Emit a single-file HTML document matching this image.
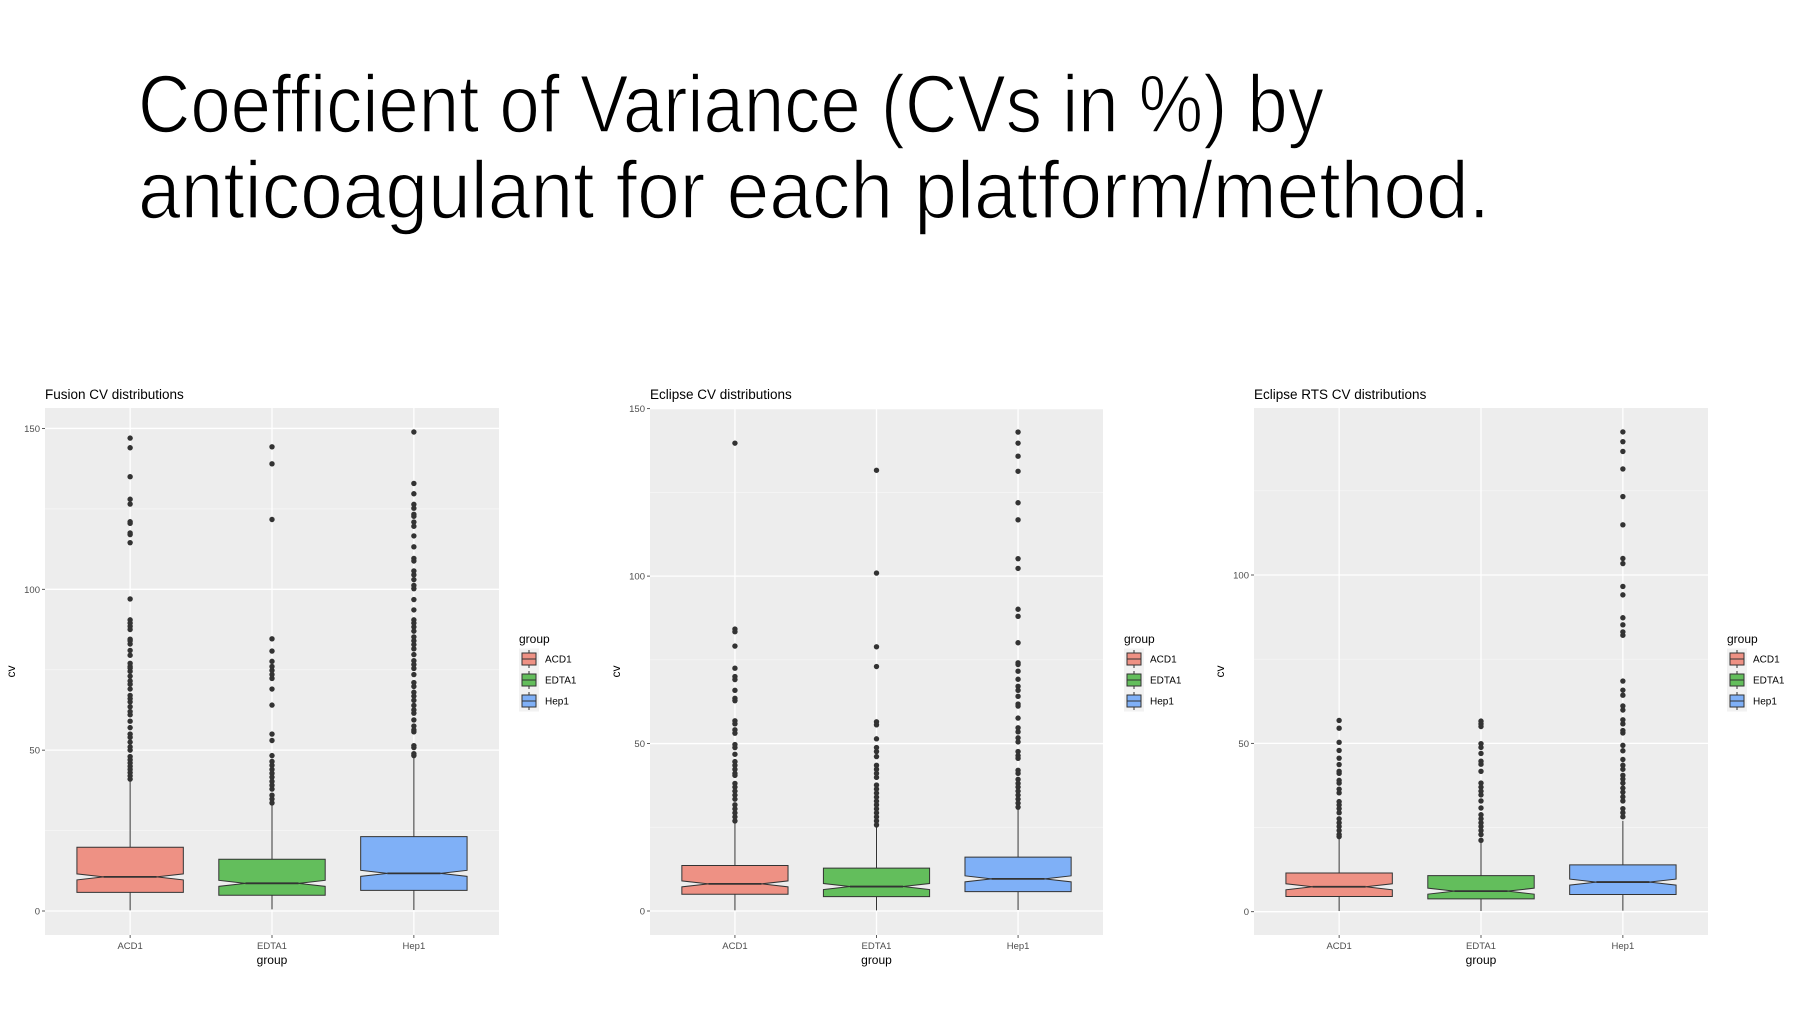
<!DOCTYPE html>
<html><head><meta charset="utf-8"><style>
html,body{margin:0;padding:0;background:#fff;}
svg{display:block;}
text{font-family:"Liberation Sans",sans-serif;}
</style></head><body>
<svg id="root" width="1800" height="1013" viewBox="0 0 1800 1013" xmlns="http://www.w3.org/2000/svg">
<rect width="1800" height="1013" fill="#fff"/>
<text x="138" y="132" font-size="82" fill="#000" stroke="#fff" stroke-width="1.6" textLength="1186" lengthAdjust="spacingAndGlyphs">Coefficient of Variance (CVs in %) by</text>
<text x="138" y="218" font-size="82" fill="#000" stroke="#fff" stroke-width="1.6" textLength="1352" lengthAdjust="spacingAndGlyphs">anticoagulant for each platform/method.</text>
</svg>
<script>
const categories = ["ACD1","EDTA1","Hep1"];
const fillColors = ["#EE9184","#63BE5C","#7FB0F7"];

// Fusion
const fusionQ1 = [5.8, 4.9, 6.4];
const fusionMedian = [10.6, 8.6, 11.7];
const fusionQ3 = [19.8, 16.1, 23.1];
const fusionWhiskerHigh = [40.3, 33.3, 47.7];
const fusionWhiskerLow = [0.2, 0.5, 0.3];
const fusionOutACD1 = [147,144,135,128,126.5,121,120.5,117.5,117,114.5,97,90.5,89.5,88.5,87.5,84.5,84,83,81,79.5,77,76,75.5,74.5,73,71.5,70.5,69,67,66,65,63.5,62,61,59,57,55,54,52.5,51,50,48,47,46,45,44,43,42,41];
const fusionOutEDTA1 = [144.3,139,121.7,84.6,80.8,77.6,76,74.8,73.5,72.3,69,64,55,53,48.3,46.5,45.3,44,42.8,41.6,40.3,39.1,37.9,36,34.8,33.6];
const fusionOutHep1 = [148.9,132.9,129.7,126.4,125.2,123.3,122.7,120.9,119.6,116.6,113.2,109.6,108.8,105.7,104.5,103,101.2,100.2,96.8,93.6,90.5,89.5,88.3,87,85.2,84,82.8,81.5,79.7,77.8,76.6,75.4,73.5,71,69.8,68,66.8,65.5,63.9,62.5,61.5,59.4,57.5,56.3,55.7,51.4,50.8,48.9,48.3];
const fusionTicks = [0,50,100,150];

// Eclipse
const eclipseQ1 = [5.0, 4.3, 5.8];
const eclipseMedian = [8.1, 7.3, 9.6];
const eclipseQ3 = [13.6, 12.8, 16.1];
const eclipseWhiskerHigh = [26.9, 25.7, 31.0];
const eclipseWhiskerLow = [0.2, 0.2, 0.3];
const eclipseOutACD1 = [139.7,84.2,83.4,79.1,72.5,70,69.1,65.9,63.5,62.8,56.8,55.9,54.1,53.1,49.7,48.8,46.8,44.6,43.5,42.3,41.1,40.5,38.1,37,35.8,34.6,33.4,31.7,30.5,29.3,28.1,26.9];
const eclipseOutEDTA1 = [131.6,100.9,78.9,73,56.5,55.6,51.4,48.8,47.6,46.1,43.5,42.3,41.1,39.9,37.6,36.4,35.2,34,32.8,31.7,30.5,29.3,28.1,26.9,25.7];
const eclipseOutHep1 = [143,139.7,135.8,131.3,121.9,116.8,105.2,102.3,90.1,88,80.1,74.1,73.6,71.6,69.2,67.1,65.9,64.1,61.8,61.2,57.6,54.7,53.5,51.7,50.5,47.6,46.4,45.6,42,41.1,39.3,38.1,37,35.8,34.6,33.4,32.2,31];
const eclipseTicks = [0,50,100,150];

// Eclipse RTS
const rtsQ1 = [4.5, 3.8, 5.1];
const rtsMedian = [7.4, 6.1, 8.8];
const rtsQ3 = [11.5, 10.7, 13.9];
const rtsWhiskerHigh = [22.3, 21.2, 27.0];
const rtsWhiskerLow = [0.2, 0.2, 0.3];
const rtsOutACD1 = [56.8,54.5,50.3,47.9,45.6,43.7,41.7,41.1,39,38.2,36.4,35.3,32.7,31.7,30.6,29.4,27.6,26.4,25.3,24.1,22.9,22.3];
const rtsOutEDTA1 = [56.6,55.8,55,49.9,48.8,47,44.7,43.8,41.7,38.2,37,35.8,34.7,32.9,30.8,28.8,27.6,26.4,25.3,24.1,22.9,21.2];
const rtsOutHep1 = [142.5,139.6,136.7,131.5,123.3,114.9,104.9,103.4,96.6,94.1,87.3,85.2,83.1,82.1,68.5,65.8,64.3,61.1,59.9,57,55.8,53.8,53.1,49.4,47.8,45.2,43.5,42.3,40.5,39.4,38.2,36.7,35.5,34.1,32.9,30.6,29.4,28.2];
const rtsTicks = [0,50,100];

const NS = "http://www.w3.org/2000/svg";
const root = document.getElementById('root');
function mk(tag, attrs, parent){
  const e = document.createElementNS(NS, tag);
  for (const k in attrs) e.setAttribute(k, attrs[k]);
  (parent||root).appendChild(e);
  return e;
}

function drawPanel(p){
  const g = mk('g', {});
  
  
  const step = (p.right - p.left) / 3.2;
  const yScale = v => p.y0 - v * p.ppu;
  const xScale = i => p.left + (i + 0.6) * step;
  const bg = mk('rect', {x:p.left, y:p.top, width:p.right-p.left, height:p.bottom-p.top, fill:'#EDEDED'}, g);
  
  
  for (let i = 0; i < p.ticks.length; i++) {
    const mv = p.ticks[i] + 25;
    const yy = yScale(mv);
    if (yy > p.top && yy < p.bottom) {
      const ml = mk('line', {x1:p.left, x2:p.right, y1:yy, y2:yy, stroke:'#f7f7f7', 'stroke-width':0.7}, g);
      
      
    }
  }
  p.ticks.forEach(t => {
    const yy = yScale(t);
    const gl = mk('line', {x1:p.left, x2:p.right, y1:yy, y2:yy, stroke:'#fff', 'stroke-width':1.3}, g);
    
    
    mk('line', {x1:p.left-3, x2:p.left, y1:yy, y2:yy, stroke:'#333', 'stroke-width':0.8}, g);
    const tl = mk('text', {x:p.left-5, y:yy+3.5, 'font-size':9.5, fill:'#4d4d4d', 'text-anchor':'end'}, g);
    tl.textContent = t;
    
    
  });
  categories.forEach((c, i) => {
    const xx = xScale(i);
    const vg = mk('line', {x1:xx, x2:xx, y1:p.top, y2:p.bottom, stroke:'#fff', 'stroke-width':1.3}, g);
    
    
    mk('line', {x1:xx, x2:xx, y1:p.bottom, y2:p.bottom+3, stroke:'#333', 'stroke-width':0.8}, g);
    const xl = mk('text', {x:xx, y:p.bottom+14, 'font-size':9.5, fill:'#4d4d4d', 'text-anchor':'middle'}, g);
    xl.textContent = c;
    
    
  });
  categories.forEach((c, i) => {
    const xx = xScale(i);
    const hw = step * 0.375;
    const q1 = yScale(p.q1[i]), q3 = yScale(p.q3[i]), md = yScale(p.med[i]);
    const nh = 3;
    const wl = mk('line', {x1:xx, x2:xx, y1:yScale(p.wh[i]), y2:q3, stroke:'#333', 'stroke-width':1}, g);
    
    
    const wl2 = mk('line', {x1:xx, x2:xx, y1:q1, y2:yScale(p.wl[i]), stroke:'#333', 'stroke-width':1}, g);
    
    
    const L = xx - hw, R = xx + hw, Li = xx - hw/2, Ri = xx + hw/2;
    const d = `M${L},${q3} L${R},${q3} L${R},${md-nh} L${Ri},${md} L${R},${md+nh} L${R},${q1} L${L},${q1} L${L},${md+nh} L${Li},${md} L${L},${md-nh} Z`;
    const bx = mk('path', {d:d, fill:p.fills[i], stroke:'#333', 'stroke-width':1}, g);
    
    
    const ml = mk('line', {x1:Li, x2:Ri, y1:md, y2:md, stroke:'#333', 'stroke-width':1.8}, g);
    
    
    p.out[i].forEach(v => {
      const pt = mk('circle', {cx:xx, cy:yScale(v), r:2.7, fill:'#333'}, g);
      
      
    });
  });
  const tt = mk('text', {x:p.left, y:p.top-9, 'font-size':13.5, fill:'#000'}, g);
  tt.textContent = p.title;
  
  
  const xt = mk('text', {x:(p.left+p.right)/2, y:p.bottom+29, 'font-size':12, fill:'#000', 'text-anchor':'middle'}, g);
  xt.textContent = 'group';
  
  
  const yt = mk('text', {x:0, y:0, 'font-size':12, fill:'#000', 'text-anchor':'middle', transform:`translate(${p.cvx},${(p.top+p.bottom)/2}) rotate(-90)`}, g);
  yt.textContent = 'cv';
  
  
  const lt = mk('text', {x:p.legX-2, y:643, 'font-size':12, fill:'#000'}, g);
  lt.textContent = 'group';
  
  
  const ys = [659, 680, 701];
  categories.forEach((c, i) => {
    const cy = ys[i];
    mk('rect', {x:p.legX-2, y:cy-10.5, width:20, height:21, fill:'#F2F2F2'}, g);
    mk('line', {x1:p.legX+8, x2:p.legX+8, y1:cy-9, y2:cy+9, stroke:'#333', 'stroke-width':1}, g);
    const kr = mk('rect', {x:p.legX+1, y:cy-6, width:14, height:12, fill:p.fills[i], stroke:'#333', 'stroke-width':1}, g);
    
    
    mk('line', {x1:p.legX+1, x2:p.legX+15, y1:cy, y2:cy, stroke:'#333', 'stroke-width':1}, g);
    const ll = mk('text', {x:p.legX+24, y:cy+3.5, 'font-size':10, fill:'#000'}, g);
    ll.textContent = c;
    
    
  });
}

drawPanel({key:'fusion', title:'Fusion CV distributions', left:45, right:499, top:408, bottom:935, y0:911, ppu:3.217,
  ticks:fusionTicks, q1:fusionQ1, med:fusionMedian, q3:fusionQ3, wh:fusionWhiskerHigh, wl:fusionWhiskerLow,
  out:[fusionOutACD1, fusionOutEDTA1, fusionOutHep1], fills:fillColors, cvx:15, legX:521});
drawPanel({key:'eclipse', title:'Eclipse CV distributions', left:650, right:1103, top:408, bottom:935, y0:911, ppu:3.349,
  ticks:eclipseTicks, q1:eclipseQ1, med:eclipseMedian, q3:eclipseQ3, wh:eclipseWhiskerHigh, wl:eclipseWhiskerLow,
  out:[eclipseOutACD1, eclipseOutEDTA1, eclipseOutHep1], fills:fillColors, cvx:620, legX:1126});
drawPanel({key:'eclipse-rts', title:'Eclipse RTS CV distributions', left:1254, right:1708, top:408, bottom:935, y0:911.7, ppu:3.367,
  ticks:rtsTicks, q1:rtsQ1, med:rtsMedian, q3:rtsQ3, wh:rtsWhiskerHigh, wl:rtsWhiskerLow,
  out:[rtsOutACD1, rtsOutEDTA1, rtsOutHep1], fills:fillColors, cvx:1224, legX:1729});
</script>
</body></html>
